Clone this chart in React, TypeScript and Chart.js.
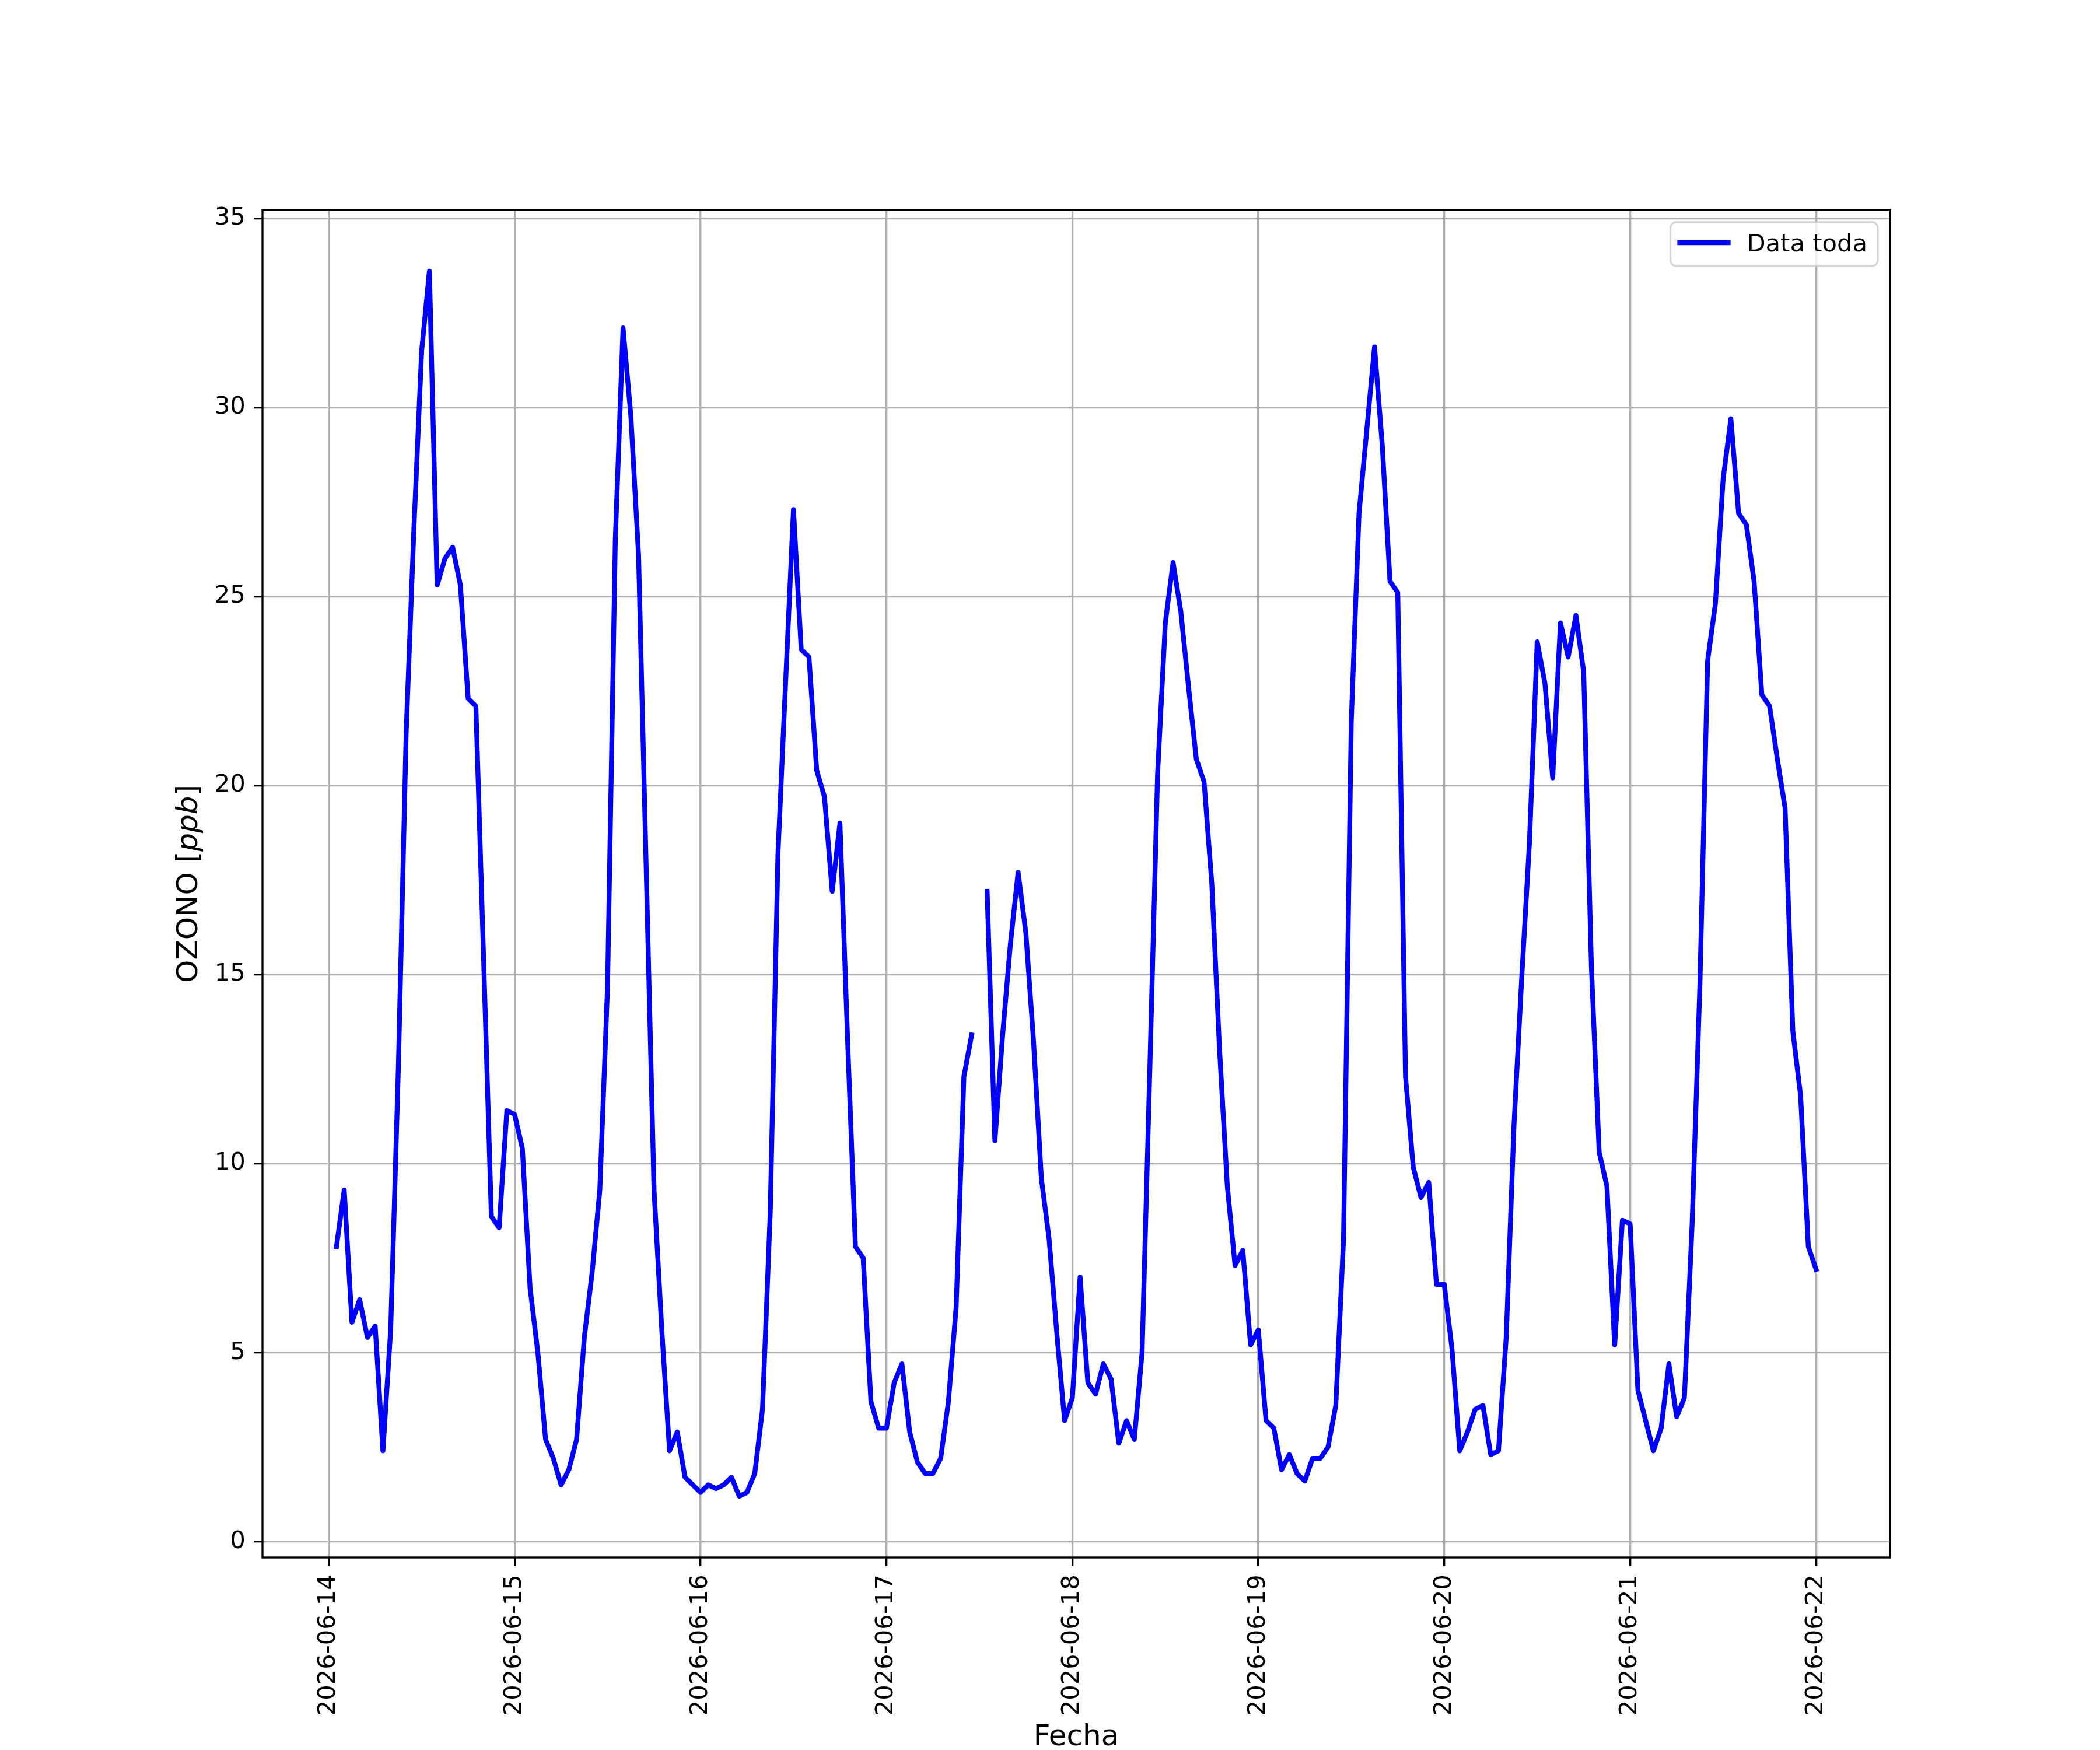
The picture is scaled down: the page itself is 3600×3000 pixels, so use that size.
import { useEffect, useRef } from 'react';
import { Chart, registerables } from 'chart.js';

Chart.register(...registerables);

// x tick labels, one per day at midnight
const dayLabels = [
  '2026-06-14', '2026-06-15', '2026-06-16', '2026-06-17', '2026-06-18',
  '2026-06-19', '2026-06-20', '2026-06-21', '2026-06-22',
];
const yTickValues = [0, 5, 10, 15, 20, 25, 30, 35];

// hourly ozone (ppb); first value is 2026-06-14 01:00, null = missing hour
const firstHour = 1;
const o3_0614 = [7.8, 9.3, 5.8, 6.4, 5.4, 5.7, 2.4, 5.6, 12.6, 21.4, 26.8, 31.5, 33.6, 25.3, 26.0, 26.3, 25.3, 22.3, 22.1, 15.4, 8.6, 8.3, 11.4];
const o3_0615 = [11.3, 10.4, 6.7, 5.0, 2.7, 2.2, 1.5, 1.9, 2.7, 5.4, 7.1, 9.3, 14.7, 26.5, 32.1, 29.8, 26.1, 17.7, 9.3, 5.6, 2.4, 2.9, 1.7, 1.5];
const o3_0616 = [1.3, 1.5, 1.4, 1.5, 1.7, 1.2, 1.3, 1.8, 3.5, 8.7, 18.2, 22.8, 27.3, 23.6, 23.4, 20.4, 19.7, 17.2, 19.0, 13.2, 7.8, 7.5, 3.7, 3.0];
const o3_0617 = [3.0, 4.2, 4.7, 2.9, 2.1, 1.8, 1.8, 2.2, 3.7, 6.2, 12.3, 13.4, null, 17.2, 10.6, 13.4, 15.8, 17.7, 16.1, 13.2, 9.6, 8.0, 5.5, 3.2];
const o3_0618 = [3.8, 7.0, 4.2, 3.9, 4.7, 4.3, 2.6, 3.2, 2.7, 5.0, 12.5, 20.3, 24.3, 25.9, 24.6, 22.6, 20.7, 20.1, 17.4, 13.0, 9.4, 7.3, 7.7, 5.2];
const o3_0619 = [5.6, 3.2, 3.0, 1.9, 2.3, 1.8, 1.6, 2.2, 2.2, 2.5, 3.6, 8.0, 21.7, 27.2, 29.4, 31.6, 29.0, 25.4, 25.1, 12.3, 9.9, 9.1, 9.5, 6.8];
const o3_0620 = [6.8, 5.1, 2.4, 2.9, 3.5, 3.6, 2.3, 2.4, 5.4, 11.0, 14.9, 18.5, 23.8, 22.7, 20.2, 24.3, 23.4, 24.5, 23.0, 15.2, 10.3, 9.4, 5.2, 8.5];
const o3_0621 = [8.4, 4.0, 3.2, 2.4, 3.0, 4.7, 3.3, 3.8, 8.4, 14.7, 23.3, 24.8, 28.1, 29.7, 27.2, 26.9, 25.4, 22.4, 22.1, 20.7, 19.4, 13.5, 11.8, 7.8];
const o3_0622 = [7.2];

const seriesLabel = 'Data toda';
const xTitle = 'Fecha';
const yTitleParts: [string, string][] = [['OZONO [', 'normal'], ['ppb', 'italic'], [']', 'normal']];

const FONT = '"DejaVu Sans"';
const PT = 300 / 72; // matplotlib figure at 300 dpi

// frame on all four sides, like matplotlib spines
const spines = {
  id: 'spines',
  afterDatasetsDraw(chart: any) {
    const { ctx, chartArea: a } = chart;
    ctx.save();
    ctx.strokeStyle = '#000';
    ctx.lineWidth = 0.8 * PT;
    ctx.strokeRect(a.left, a.top, a.right - a.left, a.bottom - a.top);
    ctx.restore();
  },
};

// boxed legend in the upper right corner of the axes
const legendBox = {
  id: 'legendBox',
  afterDraw(chart: any) {
    const { ctx, chartArea: a } = chart;
    const ds = chart.data.datasets[0];
    ctx.save();
    ctx.font = `${10 * PT}px ${FONT}`;
    const tw = ctx.measureText(ds.label).width;
    const right = a.right - 21;
    const top = a.top + 21;
    const w = 131 + tw + 18;
    const h = 75;
    const left = right - w;
    ctx.beginPath();
    ctx.roundRect(left, top, w, h, 10);
    ctx.fillStyle = 'rgba(255,255,255,0.8)';
    ctx.fill();
    ctx.strokeStyle = 'rgba(204,204,204,0.8)';
    ctx.lineWidth = 0.8 * PT;
    ctx.stroke();
    ctx.beginPath();
    ctx.moveTo(left + 16, top + 35);
    ctx.lineTo(left + 99, top + 35);
    ctx.strokeStyle = ds.borderColor;
    ctx.lineWidth = ds.borderWidth;
    ctx.lineCap = 'square';
    ctx.stroke();
    ctx.fillStyle = '#000';
    ctx.textBaseline = 'alphabetic';
    ctx.fillText(ds.label, left + 131, top + 50);
    ctx.restore();
  },
};

// y label with the unit in italics (mathtext look)
const yTitle = {
  id: 'yTitle',
  afterDraw(chart: any) {
    const { ctx, chartArea: a } = chart;
    ctx.save();
    const size = 12 * PT;
    const widths = yTitleParts.map(([t, st]) => {
      ctx.font = `${st} ${size}px ${FONT}`;
      return ctx.measureText(t).width;
    });
    const total = widths.reduce((s, v) => s + v, 0);
    ctx.translate(338, (a.top + a.bottom) / 2);
    ctx.rotate(-Math.PI / 2);
    ctx.fillStyle = '#000';
    ctx.textBaseline = 'alphabetic';
    let x = -total / 2;
    yTitleParts.forEach(([t, st], i) => {
      ctx.font = `${st} ${size}px ${FONT}`;
      ctx.fillText(t, x, 0);
      x += widths[i];
    });
    ctx.restore();
  },
};

export default function App() {
  const canvasRef = useRef<HTMLCanvasElement>(null);
  const chartRef = useRef<Chart | null>(null);

  useEffect(() => {
    if (!canvasRef.current) return;
    document.body.style.margin = '0';

    const values = [
      ...o3_0614, ...o3_0615, ...o3_0616, ...o3_0617, ...o3_0618,
      ...o3_0619, ...o3_0620, ...o3_0621, ...o3_0622,
    ];
    const points = values.map((v, i) => ({ x: firstHour + i, y: v }));

    const xFirst = firstHour;
    const xLast = firstHour + values.length - 1;
    const xPad = 0.05 * (xLast - xFirst);
    const valid = values.filter((v): v is number => v !== null);
    const yMin = Math.min(...valid);
    const yMax = Math.max(...valid);
    const yPad = 0.05 * (yMax - yMin);

    if (chartRef.current) chartRef.current.destroy();

    chartRef.current = new Chart(canvasRef.current, {
      type: 'line',
      data: {
        datasets: [
          {
            label: seriesLabel,
            data: points as any,
            borderColor: '#0000ff',
            borderWidth: 2 * PT,
            borderJoinStyle: 'round',
            borderCapStyle: 'square',
            pointRadius: 0,
            tension: 0,
            spanGaps: false,
          },
        ],
      },
      options: {
        animation: false,
        responsive: false,
        devicePixelRatio: 1,
        layout: { padding: { left: 0, top: 360, right: 360, bottom: 0 } },
        plugins: {
          legend: { display: false },
          tooltip: { enabled: false },
        },
        scales: {
          x: {
            type: 'linear',
            min: xFirst - xPad,
            max: xLast + xPad,
            afterBuildTicks: (scale: any) => {
              scale.ticks = dayLabels.map((_, i) => ({ value: i * 24 }));
            },
            afterFit: (scale: any) => {
              scale.height = 330;
            },
            ticks: {
              autoSkip: false,
              minRotation: 90,
              maxRotation: 90,
              padding: 3.5 * PT,
              color: '#000',
              font: { family: FONT, size: 10 * PT },
              callback: (v: any) => dayLabels[Math.round(Number(v) / 24)],
            },
            grid: {
              color: '#b0b0b0',
              lineWidth: 0.8 * PT,
              tickColor: '#000',
              tickWidth: 0.8 * PT,
              tickLength: 3.5 * PT,
            },
            border: { display: false },
            title: {
              display: true,
              text: xTitle,
              color: '#000',
              padding: 0,
              font: { family: FONT, size: 12 * PT, lineHeight: 0.84 },
            },
          },
          y: {
            type: 'linear',
            min: yMin - yPad,
            max: yMax + yPad,
            afterBuildTicks: (scale: any) => {
              scale.ticks = yTickValues.map((v) => ({ value: v }));
            },
            afterFit: (scale: any) => {
              scale.width = 450;
            },
            ticks: {
              padding: 3.5 * PT,
              color: '#000',
              font: { family: FONT, size: 10 * PT },
              callback: (v: any) => String(v),
            },
            grid: {
              color: '#b0b0b0',
              lineWidth: 0.8 * PT,
              tickColor: '#000',
              tickWidth: 0.8 * PT,
              tickLength: 3.5 * PT,
            },
            border: { display: false },
          },
        },
      },
      plugins: [spines, legendBox, yTitle],
    });

    return () => {
      if (chartRef.current) {
        chartRef.current.destroy();
        chartRef.current = null;
      }
    };
  }, []);

  return (
    <div style={{ width: '3600px', height: '3000px' }}>
      <canvas ref={canvasRef} width={3600} height={3000} style={{ width: '3600px', height: '3000px' }} />
    </div>
  );
}
